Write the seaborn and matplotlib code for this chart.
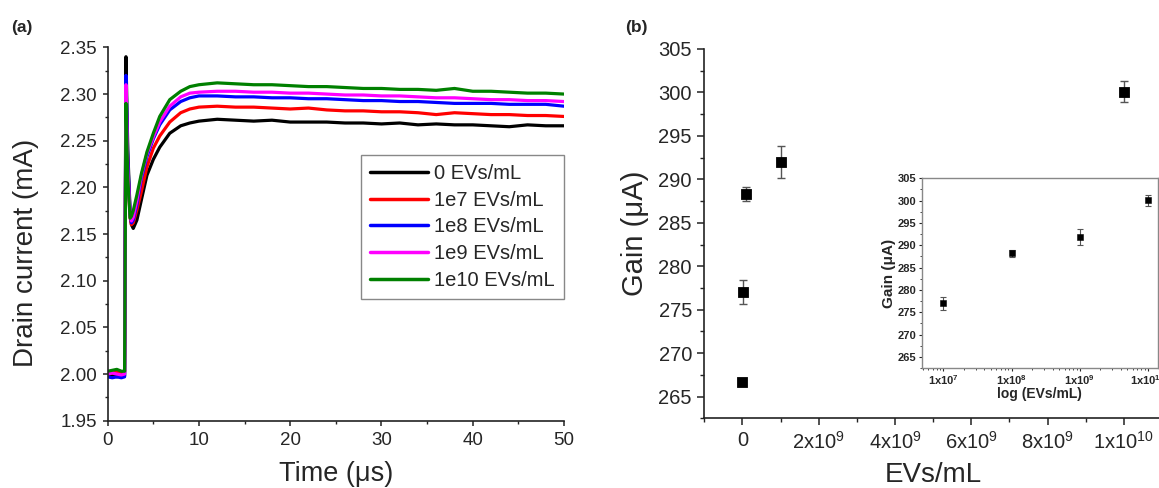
import matplotlib
matplotlib.use("Agg")
import matplotlib.pyplot as plt
from matplotlib.ticker import MultipleLocator, FixedLocator, FixedFormatter, FormatStrFormatter
import pandas as pd
import seaborn as sns

sns.set_theme(style="ticks")
plt.rcParams["font.family"] = ["Liberation Sans", "DejaVu Sans"]
plt.rcParams["mathtext.default"] = "regular"

# ── panel (a): drain current transients ──
time_us = [0, 0.5, 1.0, 1.5, 1.85, 2.0, 2.2, 2.45, 2.6, 2.8, 3.2, 3.7, 4.3, 5.0, 5.7, 6.8, 8.0, 9.0,
           10, 12, 14, 16, 18, 20, 22, 24, 26, 28, 30, 32, 34, 36, 38, 40, 42, 44, 46, 48, 50]

i_0 = [1.998, 1.999, 1.997, 1.998, 1.998, 2.340, 2.240, 2.175, 2.160, 2.156, 2.165, 2.187, 2.213, 2.230,
       2.243, 2.258, 2.266, 2.269, 2.271, 2.273, 2.272, 2.271, 2.272, 2.270, 2.270, 2.270, 2.269, 2.269,
       2.268, 2.269, 2.267, 2.268, 2.267, 2.267, 2.266, 2.265, 2.267, 2.266, 2.266]
i_1e7 = [2.002, 2.001, 2.002, 2.001, 2.002, 2.300, 2.220, 2.168, 2.160, 2.162, 2.176, 2.196, 2.222, 2.242,
         2.255, 2.270, 2.280, 2.284, 2.286, 2.287, 2.286, 2.286, 2.285, 2.284, 2.285, 2.283, 2.282, 2.282,
         2.281, 2.281, 2.280, 2.278, 2.280, 2.279, 2.278, 2.278, 2.277, 2.277, 2.276]
i_1e8 = [1.997, 1.996, 1.997, 1.996, 1.997, 2.320, 2.230, 2.172, 2.162, 2.165, 2.182, 2.210, 2.233, 2.252,
         2.267, 2.283, 2.292, 2.296, 2.298, 2.298, 2.297, 2.297, 2.296, 2.296, 2.295, 2.295, 2.294, 2.293,
         2.293, 2.292, 2.292, 2.291, 2.290, 2.290, 2.290, 2.289, 2.289, 2.289, 2.287]
i_1e9 = [2.000, 2.001, 2.000, 1.999, 2.000, 2.310, 2.220, 2.170, 2.164, 2.168, 2.186, 2.213, 2.236, 2.254,
         2.270, 2.287, 2.297, 2.301, 2.302, 2.303, 2.303, 2.302, 2.302, 2.301, 2.301, 2.300, 2.299, 2.299,
         2.298, 2.298, 2.297, 2.296, 2.296, 2.295, 2.294, 2.294, 2.293, 2.293, 2.292]
i_1e10 = [2.003, 2.004, 2.005, 2.003, 2.003, 2.290, 2.210, 2.167, 2.169, 2.175, 2.192, 2.215, 2.238, 2.258,
          2.276, 2.294, 2.303, 2.308, 2.310, 2.312, 2.311, 2.310, 2.310, 2.309, 2.308, 2.308, 2.307, 2.306,
          2.306, 2.305, 2.305, 2.304, 2.306, 2.303, 2.303, 2.302, 2.301, 2.301, 2.300]

series_labels = ["0 EVs/mL", "1e7 EVs/mL", "1e8 EVs/mL", "1e9 EVs/mL", "1e10 EVs/mL"]
series_colors = ["black", "#ff0000", "#0000ff", "#ff00ff", "#008000"]

# ── panel (b): gain vs concentration ──
conc = [0, 1e7, 1e8, 1e9, 1e10]
gain = [266.7, 277.0, 288.3, 292.0, 300.1]
gain_err = [0.3, 1.4, 0.8, 1.85, 1.2]

inset_conc = [1e7, 1e8, 1e9, 1e10]
inset_gain = [277.0, 288.2, 291.9, 300.1]
inset_err = [1.4, 0.8, 1.85, 1.2]

df = pd.concat(
    [pd.DataFrame({"t": time_us, "I": vals, "conc": lbl})
     for vals, lbl in zip([i_0, i_1e7, i_1e8, i_1e9, i_1e10], series_labels)],
    ignore_index=True,
)

W, H = 1159, 488
fig = plt.figure(figsize=(W / 100, H / 100), dpi=100)


def frac(x0, y0, x1, y1):
    return [x0 / W, 1 - y1 / H, (x1 - x0) / W, (y1 - y0) / H]


# ── (a) ──
ax1 = fig.add_axes(frac(107.7, 47.4, 564, 420.7))
sns.lineplot(data=df, x="t", y="I", hue="conc", hue_order=series_labels,
             palette=dict(zip(series_labels, series_colors)), lw=2.3, estimator=None,
             sort=False, ax=ax1)
ax1.set_xlim(0, 50)
ax1.set_ylim(1.95, 2.35)
ax1.xaxis.set_major_locator(MultipleLocator(10))
ax1.xaxis.set_minor_locator(MultipleLocator(5))
ax1.yaxis.set_major_locator(MultipleLocator(0.05))
ax1.yaxis.set_minor_locator(MultipleLocator(0.025))
ax1.yaxis.set_major_formatter(FormatStrFormatter("%.2f"))
sns.despine(ax=ax1)
ax1.set_xlabel("Time (\u03bcs)", fontsize=19.5, labelpad=9)
ax1.set_ylabel("Drain current (mA)", fontsize=20)
ax1.yaxis.set_label_coords(-0.15, 0.449)

handles, labels = ax1.get_legend_handles_labels()
leg = ax1.legend(handles, labels, loc="upper right", bbox_to_anchor=(1.0, 0.712),
                 borderaxespad=0, fontsize=14.5, handlelength=2.9, handletextpad=0.3,
                 labelspacing=0.38, borderpad=0.45, frameon=True, fancybox=False, framealpha=1)
leg.get_frame().set_edgecolor("#888888")
leg.get_frame().set_linewidth(1.0)
for h in leg.get_lines():
    h.set_linewidth(2.5)

# ── (b) ──
ax2 = fig.add_axes(frac(704.3, 49, 743.3 + 38.07 * 11, 418.3))
ax2.errorbar(conc, gain, yerr=gain_err, fmt="none", ecolor="#555555", elinewidth=1, capsize=3, capthick=1)
sns.scatterplot(x=conc, y=gain, marker="s", s=55, color="black", edgecolor="black", ax=ax2, zorder=3)
ax2.set_xlim(-1e9, 1.1e10)
ax2.set_ylim(262.5, 305)
ax2.yaxis.set_major_locator(MultipleLocator(5))
ax2.yaxis.set_minor_locator(MultipleLocator(2.5))
xt = [0, 2e9, 4e9, 6e9, 8e9, 1e10]
ax2.xaxis.set_major_locator(FixedLocator(xt))
ax2.xaxis.set_major_formatter(FixedFormatter(["0", r"2x10$^9$", r"4x10$^9$", r"6x10$^9$", r"8x10$^9$", r"1x10$^{10}$"]))
ax2.xaxis.set_minor_locator(FixedLocator([-1e9, 1e9, 3e9, 5e9, 7e9, 9e9, 1.1e10]))
sns.despine(ax=ax2)
ax2.set_xlabel("EVs/mL", fontsize=20, labelpad=7)
ax2.set_ylabel("Gain (\u03bcA)", fontsize=21)
ax2.yaxis.set_label_coords(-0.12, 0.5)

for ax, fs, tl in ((ax1, 13.5, 3.8), (ax2, 14.5, 4.9)):
    for s in ("left", "bottom"):
        ax.spines[s].set_linewidth(1.2)
        ax.spines[s].set_color("#222222")
    ax.tick_params(which="major", direction="out", length=tl, width=1.1, labelsize=fs, pad=4, color="#222222")
    ax.tick_params(which="minor", direction="out", length=tl * 0.55, width=1.0, color="#222222")
    ax.set_facecolor("white")

# ── inset ──
ax3 = fig.add_axes(frac(921.7, 178.3, 1157.7, 368))
ax3.errorbar(inset_conc, inset_gain, yerr=inset_err, fmt="none", ecolor="#555555", elinewidth=0.8, capsize=2, capthick=0.8)
sns.scatterplot(x=inset_conc, y=inset_gain, marker="s", s=22, color="black", edgecolor="black", ax=ax3, zorder=3)
ax3.set_xscale("log")
ax3.set_xlim(10 ** 6.683, 10 ** 10.142)
ax3.set_ylim(262.5, 305)
ax3.yaxis.set_major_locator(MultipleLocator(5))
ax3.yaxis.set_minor_locator(MultipleLocator(2.5))
ax3.xaxis.set_major_locator(FixedLocator([1e7, 1e8, 1e9, 1e10]))
ax3.xaxis.set_major_formatter(FixedFormatter([r"1x10$^7$", r"1x10$^8$", r"1x10$^9$", r"1x10$^{10}$"]))
for s in ax3.spines.values():
    s.set_color("#888888")
    s.set_linewidth(1.0)
ax3.tick_params(which="major", direction="out", length=2.5, width=0.8, labelsize=8, pad=1.5)
ax3.tick_params(which="minor", direction="out", length=1.5, width=0.6)
for lbl in ax3.get_xticklabels() + ax3.get_yticklabels():
    lbl.set_fontweight("bold")
ax3.set_xlabel("log (EVs/mL)", fontsize=10, fontweight="bold", labelpad=0)
ax3.set_ylabel("Gain (\u03bcA)", fontsize=11, fontweight="bold", labelpad=1)

fig.text(0.010, 0.943, "(a)", fontsize=12.5, fontweight="bold", va="center")
fig.text(0.539, 0.943, "(b)", fontsize=12.5, fontweight="bold", va="center")

fig.savefig("out.png", dpi=100)
